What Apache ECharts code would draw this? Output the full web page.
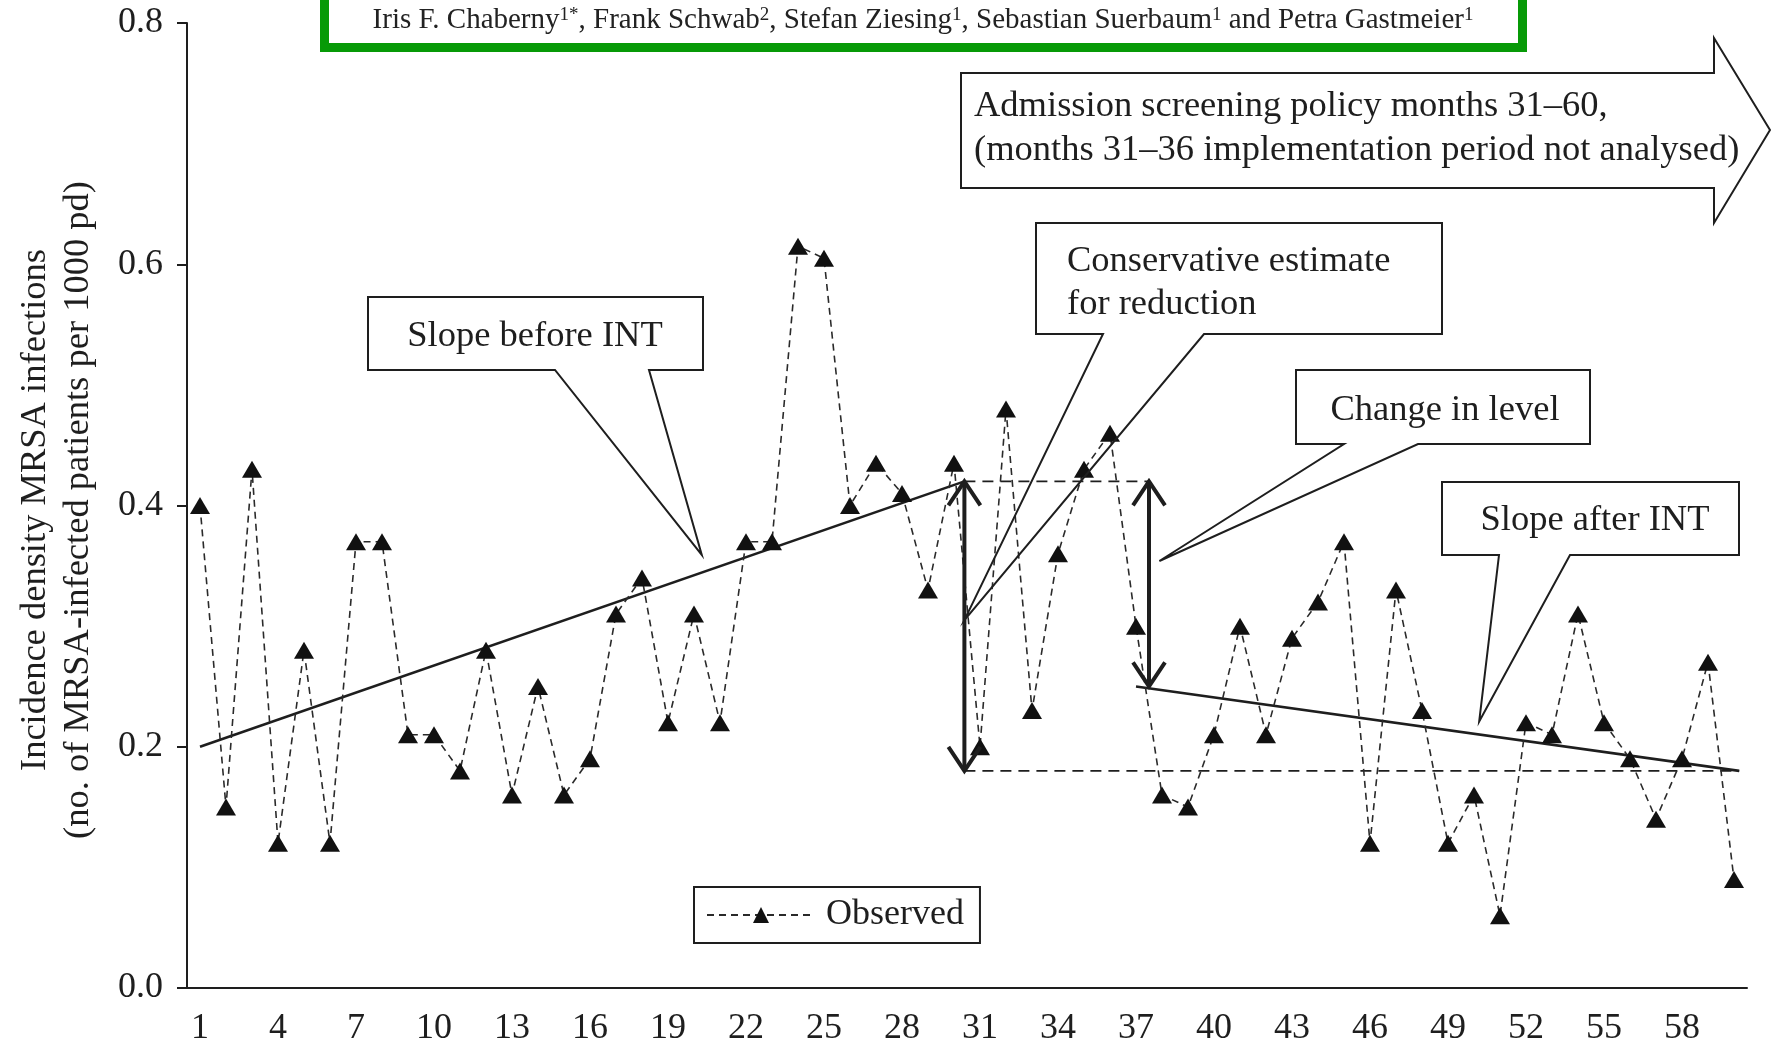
<!DOCTYPE html>
<html>
<head>
<meta charset="utf-8">
<script src="https://cdn.jsdelivr.net/npm/echarts@6/dist/echarts.min.js"></script>
<style>
  html, body { margin: 0; padding: 0; background: #fff; }
  #chart { width: 1771px; height: 1047px; }
</style>
</head>
<body>
<div id="chart"></div>
<script>
// Month labels (category axis)
const months = ['1','2','3','4','5','6','7','8','9','10','11','12','13','14','15','16','17','18','19','20',
  '21','22','23','24','25','26','27','28','29','30','31','32','33','34','35','36','37','38','39','40',
  '41','42','43','44','45','46','47','48','49','50','51','52','53','54','55','56','57','58','59','60'];

// Observed monthly incidence density of MRSA infections
const observed = [0.40, 0.15, 0.43, 0.12, 0.28, 0.12, 0.37, 0.37, 0.21, 0.21,
  0.18, 0.28, 0.16, 0.25, 0.16, 0.19, 0.31, 0.34, 0.22, 0.31,
  0.22, 0.37, 0.37, 0.615, 0.605, 0.40, 0.435, 0.41, 0.33, 0.435,
  0.20, 0.48, 0.23, 0.36, 0.43, 0.46, 0.30, 0.16, 0.15, 0.21,
  0.30, 0.21, 0.29, 0.32, 0.37, 0.12, 0.33, 0.23, 0.12, 0.16,
  0.06, 0.22, 0.21, 0.31, 0.22, 0.19, 0.14, 0.19, 0.27, 0.09];

// Segmented regression lines [month, value]
const slopeBefore = [[1, 0.20], [30.4, 0.42]];
const slopeAfter = [[37, 0.25], [60.2, 0.18]];

// Dashed reference levels [month, value]
const levelTop = [[30.4, 0.42], [37.5, 0.42]];
const levelBottom = [[30.4, 0.18], [60.2, 0.18]];

// Double-headed arrows [month, upper value, lower value]
const arrows = [[30.4, 0.42, 0.18], [37.5, 0.42, 0.25]];

// Y-axis ticks
const yTicks = [0.0, 0.2, 0.4, 0.6, 0.8];

const SERIF = '"Liberation Serif", "Times New Roman", serif';
const INK = '#1e1e1e';
const TEXT_FONT = '36.5px ' + SERIF;

const chart = echarts.init(document.getElementById('chart'), null, { renderer: 'canvas' });

chart.setOption({
  animation: false,
  backgroundColor: '#fff',
  grid: { left: 187, right: 24, top: 23, bottom: 55, containLabel: false },
  legend: {
    left: 694, top: 887,
    data: ['Observed'],
    borderColor: INK, borderWidth: 2,
    padding: [9, 16, 9, 12],
    itemWidth: 108, itemHeight: 20,
    textStyle: { fontFamily: SERIF, fontSize: 36, color: INK, lineHeight: 38, padding: [0, 0, 0, 6] }
  },
  xAxis: [
    {
      type: 'category', data: months, boundaryGap: true,
      axisLine: { lineStyle: { color: INK, width: 2 } },
      axisTick: { interval: 0, length: 12, lineStyle: { color: INK, width: 1.5 } },
      axisLabel: { interval: 2, margin: 23, fontFamily: SERIF, fontSize: 36, color: INK },
      splitLine: { show: false }
    },
    { type: 'value', min: 0.5, max: 60.5, show: false }
  ],
  yAxis: {
    type: 'value', min: 0, max: 0.8, interval: 0.2,
    axisLine: { show: true, lineStyle: { color: INK, width: 2 } },
    axisTick: { show: true, length: 10, lineStyle: { color: INK, width: 2 } },
    axisLabel: {
      margin: 24, fontFamily: SERIF, fontSize: 36, color: INK,
      formatter: v => (yTicks.indexOf(Math.round(v * 10) / 10) >= 0 ? v.toFixed(1) : '')
    },
    splitLine: { show: false }
  },
  series: [
    {
      name: 'Observed', type: 'line', data: observed,
      symbol: 'triangle', symbolSize: [20, 17],
      itemStyle: { color: '#111' },
      lineStyle: { color: '#2a2a2a', width: 1.6, type: [7, 5] },
      z: 3
    },
    {
      name: 'Slope before INT', type: 'line', xAxisIndex: 1, data: slopeBefore,
      symbol: 'none', lineStyle: { color: INK, width: 2.6 }, z: 2
    },
    {
      name: 'Slope after INT', type: 'line', xAxisIndex: 1, data: slopeAfter,
      symbol: 'none', lineStyle: { color: INK, width: 2.6 }, z: 2
    },
    {
      name: 'Level before', type: 'line', xAxisIndex: 1, data: levelTop,
      symbol: 'none', lineStyle: { color: INK, width: 1.6, type: [11, 7] }, z: 2
    },
    {
      name: 'Level after', type: 'line', xAxisIndex: 1, data: levelBottom,
      symbol: 'none', lineStyle: { color: INK, width: 1.6, type: [11, 7] }, z: 2
    },
    {
      name: 'Level change', type: 'custom', xAxisIndex: 1, data: arrows,
      encode: { x: 0, y: [1, 2] }, z: 4,
      renderItem(params, api) {
        const m = api.value(0);
        const top = api.coord([m, api.value(1)]);
        const bot = api.coord([m, api.value(2)]);
        const hw = 16, hh = 24;
        const st = { stroke: INK, lineWidth: 4, fill: null, lineJoin: 'miter' };
        return {
          type: 'group',
          children: [
            { type: 'line', shape: { x1: top[0], y1: top[1], x2: bot[0], y2: bot[1] }, style: st },
            { type: 'polyline', shape: { points: [[top[0] - hw, top[1] + hh], [top[0], top[1]], [top[0] + hw, top[1] + hh]] }, style: st },
            { type: 'polyline', shape: { points: [[bot[0] - hw, bot[1] - hh], [bot[0], bot[1]], [bot[0] + hw, bot[1] - hh]] }, style: st }
          ]
        };
      }
    }
  ]
});

// Callout annotations: box in pixels, pointer tip anchored to [month, value]
const callouts = [
  { box: [368, 297, 703, 370], base: [555, 649], tip: [20.3, 0.359],
    text: 'Slope before INT', tx: 535, ty: 336, align: 'center' },
  { box: [1036, 223, 1442, 334], base: [1103, 1204], tip: [30.4, 0.305],
    text: 'Conservative estimate\nfor reduction', tx: 1067, ty: 283, align: 'left' },
  { box: [1296, 370, 1590, 444], base: [1344, 1418], tip: [37.9, 0.354],
    text: 'Change in level', tx: 1445, ty: 410, align: 'center' },
  { box: [1442, 482, 1739, 555], base: [1499, 1570], tip: [50.2, 0.221],
    text: 'Slope after INT', tx: 1595, ty: 520, align: 'center' }
];

const elements = [];
callouts.forEach(c => {
  const [x0, y0, x1, y1] = c.box;
  const tip = chart.convertToPixel({ seriesIndex: 1 }, c.tip);
  elements.push({
    type: 'polygon', z: 10,
    shape: { points: [[x0, y0], [x1, y0], [x1, y1], [c.base[1], y1], tip, [c.base[0], y1], [x0, y1]] },
    style: { fill: 'rgba(0,0,0,0)', stroke: INK, lineWidth: 2 }
  });
  elements.push({
    type: 'text', z: 11, x: c.tx, y: c.ty,
    style: { text: c.text, font: TEXT_FONT, fill: INK, align: c.align, verticalAlign: 'middle', lineHeight: 43 }
  });
});

// Screening-policy arrow
elements.push({
  type: 'polygon', z: 10,
  shape: { points: [[961, 73], [1714, 73], [1714, 38], [1770, 130], [1714, 223], [1714, 188], [961, 188]] },
  style: { fill: 'rgba(0,0,0,0)', stroke: INK, lineWidth: 2 }
});
elements.push({
  type: 'text', z: 11, x: 974, y: 128,
  style: {
    text: 'Admission screening policy months 31\u201360,\n(months 31\u201336 implementation period not analysed)',
    font: TEXT_FONT, fill: INK, align: 'left', verticalAlign: 'middle', lineHeight: 44
  }
});

// Author banner
elements.push({
  type: 'rect', z: 10,
  shape: { x: 324.5, y: -20, width: 1198, height: 67.5 },
  style: { fill: '#fff', stroke: '#079a07', lineWidth: 9 }
});
elements.push({
  type: 'text', z: 11, x: 923, y: 20,
  style: {
    text: 'Iris F. Chaberny{s|1*}, Frank Schwab{s|2}, Stefan Ziesing{s|1}, Sebastian Suerbaum{s|1} and Petra Gastmeier{s|1}',
    font: '29px ' + SERIF, fill: '#222', align: 'center', verticalAlign: 'middle',
    rich: { s: { fontFamily: SERIF, fontSize: 19, fill: '#222', padding: [0, 0, 10, 0] } }
  }
});

// Y-axis title
elements.push({
  type: 'text', z: 11, x: 57, y: 510, rotation: Math.PI / 2,
  style: {
    text: 'Incidence density MRSA infections\n(no. of MRSA-infected patients per 1000 pd)',
    font: TEXT_FONT, fill: INK, align: 'center', verticalAlign: 'middle', lineHeight: 43
  }
});

chart.setOption({ graphic: { elements } });
</script>
</body>
</html>
